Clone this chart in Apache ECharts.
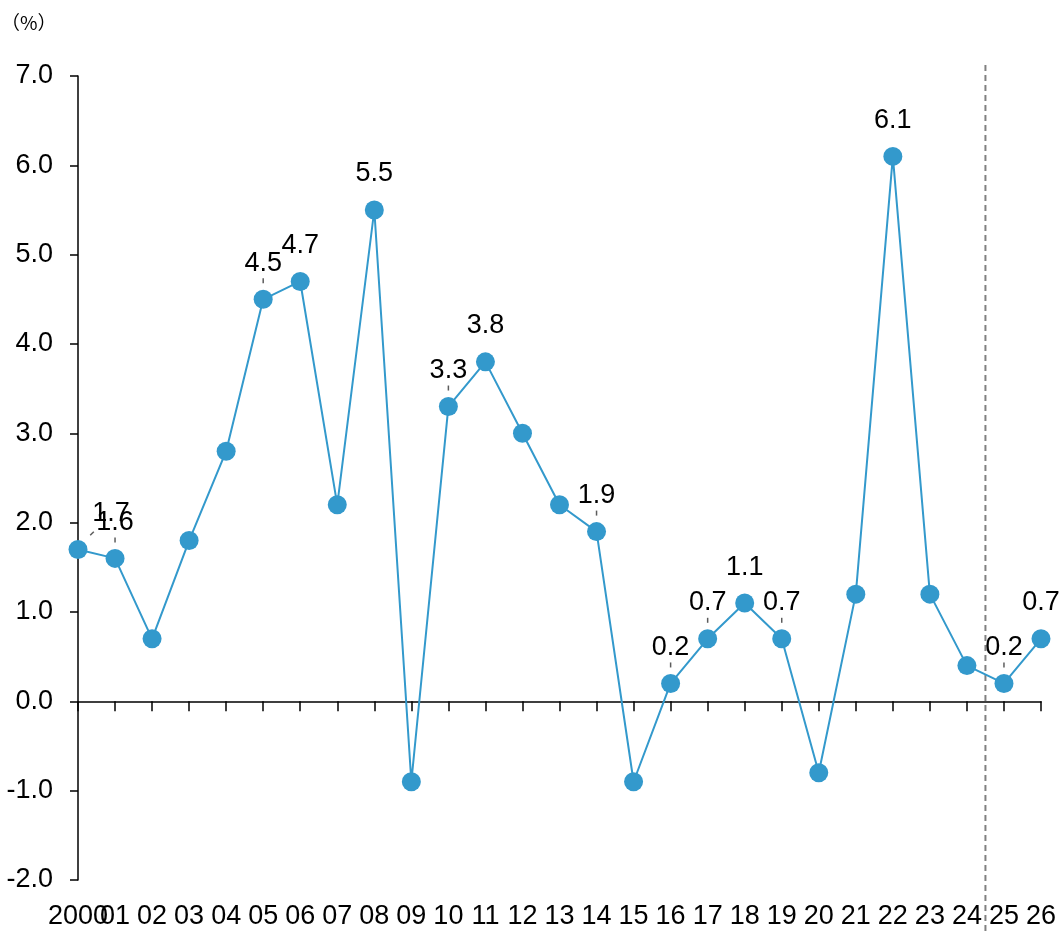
<!DOCTYPE html>
<html>
<head>
<meta charset="utf-8">
<script src="https://cdn.jsdelivr.net/npm/echarts@6/dist/echarts.min.js"></script>
<style>
html,body{margin:0;padding:0;background:#fff;}
#chart{width:1060px;height:931px;}
</style>
</head>
<body>
<div id="chart"></div>
<script>
// ---- data ----
var categories = ['2000','01','02','03','04','05','06','07','08','09','10','11','12','13','14','15','16','17','18','19','20','21','22','23','24','25','26'];
var values = [1.7,1.6,0.7,1.8,2.8,4.5,4.7,2.2,5.5,-0.9,3.3,3.8,3.0,2.2,1.9,-0.9,0.2,0.7,1.1,0.7,-0.8,1.2,6.1,1.2,0.4,0.2,0.7];
var labeledIdx = [0,1,5,6,8,10,11,14,16,17,18,19,22,25,26];
var leaderIdx = [0,1,5,10,14,16,17,19,25];
var yTicks = [-2,-1,0,1,2,3,4,5,6,7];
var unitText = '（%）';
var forecastStart = 25; // first forecast category (dashed divider before it)

var FONT = '"Liberation Sans", Arial, sans-serif';
var BLUE = '#3399CC';

var chart = echarts.init(document.getElementById('chart'));

var lineData = values.map(function (v, i) {
  var item = { value: v };
  if (labeledIdx.indexOf(i) >= 0) {
    item.label = { show: true, offset: i === 0 ? [33, 0] : [0, 0] };
  }
  return item;
});

var leaderData = leaderIdx.map(function (i) {
  var item = { value: [i, values[i]] };
  if (i === 0) {
    item.symbolRotate = -45;
    item.symbolOffset = [14, -16];
  }
  return item;
});

chart.setOption({
  animation: false,
  backgroundColor: '#fff',
  textStyle: { fontFamily: FONT },
  title: {
    text: unitText, left: 1, top: 13, padding: 0,
    textStyle: { fontSize: 19, fontWeight: 'normal', color: '#000', fontFamily: '"Noto Sans CJK JP", sans-serif' }
  },
  grid: { left: 78, right: 19, top: 76, bottom: 51, containLabel: false },
  xAxis: [{
    type: 'category',
    data: categories,
    boundaryGap: false,
    axisLine: { onZero: true, lineStyle: { color: '#000', width: 1.5 } },
    axisTick: { show: true, length: 10, alignWithLabel: true, lineStyle: { color: '#000', width: 1.5 } },
    axisLabel: { show: false },
    splitLine: { show: false }
  }, {
    type: 'category',
    data: categories,
    boundaryGap: false,
    position: 'bottom',
    axisLine: { show: false, onZero: false },
    axisTick: { show: false },
    axisLabel: { show: true, interval: 0, margin: 23, fontSize: 27, color: '#000', fontFamily: FONT },
    splitLine: { show: false }
  }],
  yAxis: {
    type: 'value',
    min: yTicks[0],
    max: yTicks[yTicks.length - 1],
    interval: 1,
    axisLine: { show: true, lineStyle: { color: '#000', width: 1.5 } },
    axisTick: { show: true, inside: false, length: 8, lineStyle: { color: '#000', width: 1.5 } },
    axisLabel: { margin: 25, fontSize: 27, color: '#000', fontFamily: FONT,
      formatter: function (v) { return v.toFixed(1); } },
    splitLine: { show: false }
  },
  series: [{
    type: 'line',
    data: lineData,
    xAxisIndex: 0,
    symbol: 'circle',
    symbolSize: 19,
    lineStyle: { color: BLUE, width: 2 },
    itemStyle: { color: BLUE },
    z: 3,
    label: {
      show: false,
      position: 'top',
      distance: 13,
      fontSize: 27,
      color: '#000',
      fontFamily: FONT,
      formatter: function (p) { return Number(p.value).toFixed(1); }
    }
  }, {
    type: 'scatter',
    data: leaderData,
    xAxisIndex: 0,
    symbol: 'rect',
    symbolSize: [1.5, 5],
    symbolOffset: [0, -18.5],
    itemStyle: { color: '#333' },
    silent: true,
    z: 2
  }]
});

// dashed divider between actual and forecast years
var p1 = chart.convertToPixel({ xAxisIndex: 0, yAxisIndex: 0 }, [forecastStart - 1, 0]);
var p2 = chart.convertToPixel({ xAxisIndex: 0, yAxisIndex: 0 }, [forecastStart, 0]);
var xm = (p1[0] + p2[0]) / 2;
var yTop = chart.convertToPixel({ yAxisIndex: 0 }, yTicks[yTicks.length - 1]) - 11;
chart.setOption({
  graphic: [{
    type: 'line', z: 1,
    shape: { x1: xm, y1: yTop, x2: xm, y2: 931 },
    style: { stroke: '#808080', lineWidth: 2, lineDash: [6, 4] }
  }]
});
</script>
</body>
</html>
